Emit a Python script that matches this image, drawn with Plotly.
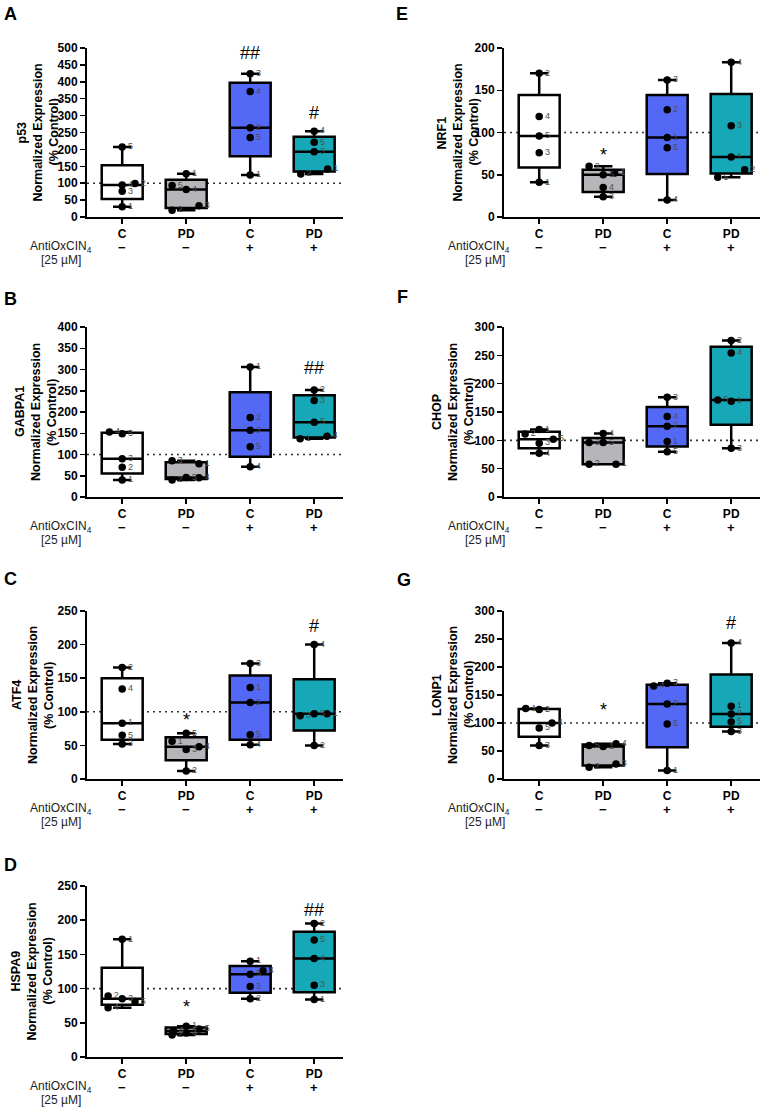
import plotly.graph_objects as go

W, H = 765, 1108
FONT = "Liberation Sans, Arial, sans-serif"

# ---------------- data ----------------
groups = ["C", "PD", "C", "PD"]
treatment = ["−", "−", "+", "+"]
fills = ["#ffffff", "#b6b6ba", "#5468f6", "#17a8b8"]

# A  p53
p53_vals = [[207, 95, 99, 76, 30], [128, 93, 81, 33, 20],
            [424, 371, 264, 235, 124], [254, 221, 193, 142, 127]]
p53_ids = [["5", "4", "2", "3", "1"], ["1", "5", "4", "3", "2"],
           ["3", "4", "2", "5", "1"], ["4", "5", "3", "1", "2"]]
p53_dx = [[0, 0, 0.2, 0, 0], [0, -0.22, 0, 0.2, -0.22],
          [0, 0, 0, 0, 0], [0, 0, 0, 0.21, -0.21]]
p53_sig = [(2, "##", 485), (3, "#", 308)]

# B  GABPA1
gabpa1_vals = [[153, 149, 90, 70, 40], [85, 78, 46, 45, 40],
               [306, 187, 157, 118, 71], [252, 227, 176, 143, 137]]
gabpa1_ids = [["4", "5", "3", "2", "1"], ["3", "1", "5", "4", "2"],
              ["1", "2", "3", "5", "4"], ["2", "3", "5", "4", "1"]]
gabpa1_dx = [[-0.2, 0, 0, 0, 0], [-0.22, 0.2, 0, 0.2, -0.22],
             [0, 0, 0, 0, 0], [0, 0, 0, 0.2, -0.22]]
gabpa1_sig = [(3, "##", 303)]

# C  ATF4
atf4_vals = [[166, 134, 83, 65, 52], [68, 56, 48, 44, 12],
             [172, 136, 114, 66, 51], [200, 97, 94, 97, 50]]
atf4_ids = [["2", "4", "1", "5", "3"], ["5", "1", "4", "3", "2"],
            ["3", "1", "2", "5", "4"], ["4", "5", "3", "1", "2"]]
atf4_dx = [[0, 0, 0, 0, 0], [0, -0.22, 0.2, 0, 0],
           [0, 0, 0, 0, 0], [0, 0, -0.22, 0.2, 0]]
atf4_sig = [(1, "*", 88), (3, "#", 228)]

# D  HSPA9
hspa9_vals = [[172, 89, 85, 81, 72], [45, 41, 38, 35, 32],
              [140, 126, 121, 103, 85], [195, 171, 144, 105, 84]]
hspa9_ids = [["1", "2", "3", "5", "4"], ["1", "5", "4", "3", "2"],
             ["1", "4", "5", "3", "2"], ["2", "5", "4", "3", "1"]]
hspa9_dx = [[0, -0.22, 0, 0.2, -0.22], [0, 0.2, -0.2, 0, -0.22],
            [0, 0.2, 0, 0, 0], [0, 0, 0, 0, 0]]
hspa9_sig = [(1, "*", 73), (3, "##", 215)]

# E  NRF1
nrf1_vals = [[170, 119, 96, 76, 41], [60, 52, 50, 35, 24],
             [162, 127, 94, 82, 20], [183, 108, 71, 56, 47]]
nrf1_ids = [["2", "4", "5", "3", "1"], ["2", "1", "5", "4", "3"],
            ["3", "2", "1", "5", "4"], ["4", "3", "1", "2", "5"]]
nrf1_dx = [[0, 0, 0, 0, 0], [-0.22, 0.18, 0, 0, 0],
           [0, 0, 0, 0, 0], [0, 0, 0, 0.21, -0.21]]
nrf1_sig = [(1, "*", 73)]

# F  CHOP
chop_vals = [[119, 111, 102, 95, 77], [112, 96, 96, 58, 58],
             [176, 142, 125, 98, 80], [276, 254, 171, 169, 86]]
chop_ids = [["1", "2", "5", "3", "4"], ["4", "3", "5", "2", "1"],
            ["3", "4", "2", "1", "5"], ["2", "4", "5", "1", "3"]]
chop_dx = [[0, -0.22, 0.22, 0, 0], [0, -0.22, 0, -0.22, 0.2],
           [0, 0, 0, 0, 0], [0, 0, -0.21, 0, 0]]
chop_sig = [(3, "#", 312)]

# G  LONP1
lonp1_vals = [[126, 124, 100, 91, 60], [63, 60, 58, 27, 21],
              [171, 166, 134, 98, 15], [243, 130, 116, 102, 85]]
lonp1_ids = [["1", "2", "4", "5", "3"], ["4", "5", "1", "3", "2"],
             ["3", "4", "2", "5", "1"], ["4", "1", "2", "5", "3"]]
lonp1_dx = [[-0.21, 0, 0.2, 0, 0], [0.2, -0.22, 0, 0.2, -0.22],
            [0, -0.21, 0, 0, 0], [0, 0, 0, 0, 0]]
lonp1_sig = [(1, "*", 123), (3, "#", 279)]

panels = [
    # letter, gene, vals, ids, dx, ymax, sig, col, row
    ("A", "p53", p53_vals, p53_ids, p53_dx, 500, p53_sig, 0, 0),
    ("B", "GABPA1", gabpa1_vals, gabpa1_ids, gabpa1_dx, 400, gabpa1_sig, 0, 1),
    ("C", "ATF4", atf4_vals, atf4_ids, atf4_dx, 250, atf4_sig, 0, 2),
    ("D", "HSPA9", hspa9_vals, hspa9_ids, hspa9_dx, 250, hspa9_sig, 0, 3),
    ("E", "NRF1", nrf1_vals, nrf1_ids, nrf1_dx, 200, nrf1_sig, 1, 0),
    ("F", "CHOP", chop_vals, chop_ids, chop_dx, 300, chop_sig, 1, 1),
    ("G", "LONP1", lonp1_vals, lonp1_ids, lonp1_dx, 300, lonp1_sig, 1, 2),
]

# ---------------- layout geometry (pixels) ----------------
col_x = [(87, 343), (504, 760)]
row_y = [(48, 217), (327, 497), (611, 779), (886, 1057)]
title_cx = {"A": 37, "B": 36, "C": 33, "D": 31, "E": 457, "F": 453, "G": 453}
letter_pos = {"A": (10, 14), "B": (10, 299), "C": (10, 579), "D": (10, 865),
              "E": (402, 14), "F": (402, 297), "G": (404, 580)}
antiox_cx = [61, 479]
conc_cx = [61, 485]


def px(x):
    return x / W


def py(y):
    return 1 - y / H


fig = go.Figure()
annotations = []
shapes = []
layout = {}

for n, (letter, gene, vals, ids, dxs, ymax, sig, col, row) in enumerate(panels, start=1):
    xa = "x" if n == 1 else f"x{n}"
    ya = "y" if n == 1 else f"y{n}"
    x0, x1 = col_x[col]
    top, bot = row_y[row]

    for i, (v, lab, dx) in enumerate(zip(vals, ids, dxs)):
        fig.add_trace(go.Box(
            x=[i] * len(v), y=v, xaxis=xa, yaxis=ya,
            width=0.64, whiskerwidth=0.45, quartilemethod="exclusive",
            boxpoints=False, fillcolor=fills[i],
            line=dict(color="black", width=2.5),
            showlegend=False, hoverinfo="skip"))
    for i, (v, lab, dx) in enumerate(zip(vals, ids, dxs)):
        fig.add_trace(go.Scatter(
            x=[i + d for d in dx], y=v, xaxis=xa, yaxis=ya,
            mode="markers+text", text=lab, textposition="middle right",
            textfont=dict(size=9, color="#505050", family=FONT),
            marker=dict(size=7.5, color="black"),
            showlegend=False, hoverinfo="skip", cliponaxis=False))

    axis_font = dict(family=FONT, size=12, color="black", weight="bold")
    layout["xaxis" if n == 1 else f"xaxis{n}"] = dict(
        domain=[px(x0), px(x1)], anchor=ya, range=[-0.55, 3.45],
        tickmode="array", tickvals=[0, 1, 2, 3], ticktext=groups,
        showline=True, linecolor="black", linewidth=2, automargin=False,
        ticks="outside", ticklen=5, tickwidth=1.5, tickcolor="black",
        tickfont=axis_font, showgrid=False, zeroline=False)
    layout["yaxis" if n == 1 else f"yaxis{n}"] = dict(
        domain=[py(bot), py(top)], anchor=xa, range=[0, ymax],
        tick0=0, dtick=50, automargin=False,
        showline=True, linecolor="black", linewidth=2,
        ticks="outside", ticklen=5, tickwidth=1.5, tickcolor="black",
        tickfont=axis_font, showgrid=False, zeroline=False)

    # reference line at 100 %
    shapes.append(dict(type="line", xref=f"{xa} domain", yref=ya,
                       x0=0, x1=1, y0=100, y1=100, layer="below",
                       line=dict(color="#333333", width=1.6, dash="2px,4px")))

    # y title (three lines)
    cx = title_cx[letter]
    for k, line in enumerate([gene, "Normalized Expression", "(% Control)"]):
        annotations.append(dict(
            xref="paper", yref="paper", x=px(cx + (k - 1) * 16), y=py((top + bot) / 2),
            text=f"<b>{line}</b>",
            textangle=-90, showarrow=False, xanchor="center", yanchor="middle",
            font=dict(family=FONT, size=12.5, color="black")))

    # panel letter
    lx, ly = letter_pos[letter]
    annotations.append(dict(
        xref="paper", yref="paper", x=px(lx), y=py(ly), text=f"<b>{letter}</b>",
        showarrow=False, xanchor="center", yanchor="middle",
        font=dict(family=FONT, size=18, color="black")))

    # treatment rows
    annotations.append(dict(
        xref="paper", yref="paper", x=px(antiox_cx[col]), y=py(bot + 30),
        text="AntiOxCIN<sub>4</sub>", showarrow=False,
        xanchor="center", yanchor="middle",
        font=dict(family=FONT, size=12, color="#222222")))
    annotations.append(dict(
        xref="paper", yref="paper", x=px(conc_cx[col]), y=py(bot + 43),
        text="[25 µM]", showarrow=False, xanchor="center", yanchor="middle",
        font=dict(family=FONT, size=12, color="#222222")))
    for i, t in enumerate(treatment):
        annotations.append(dict(
            xref=xa, yref="paper", x=i, y=py(bot + 30), text=f"<b>{t}</b>",
            showarrow=False, xanchor="center", yanchor="middle",
            font=dict(family=FONT, size=13, color="black")))

    # significance marks
    for gi, mark, yv in sig:
        annotations.append(dict(
            xref=xa, yref=ya, x=gi, y=yv, text=mark, showarrow=False,
            xanchor="center", yanchor="middle",
            font=dict(family=FONT, size=18, color="black")))

fig.update_layout(
    width=W, height=H, autosize=False,
    margin=dict(l=0, r=0, t=0, b=0, autoexpand=False),
    paper_bgcolor="white", plot_bgcolor="white",
    boxmode="overlay", showlegend=False,
    annotations=annotations, shapes=shapes,
    font=dict(family=FONT),
    **layout)

fig.write_html("out.html",
               config={"displayModeBar": False, "staticPlot": True},
               post_script="document.body.style.margin='0px';"
                           "document.body.style.overflow='hidden';")
